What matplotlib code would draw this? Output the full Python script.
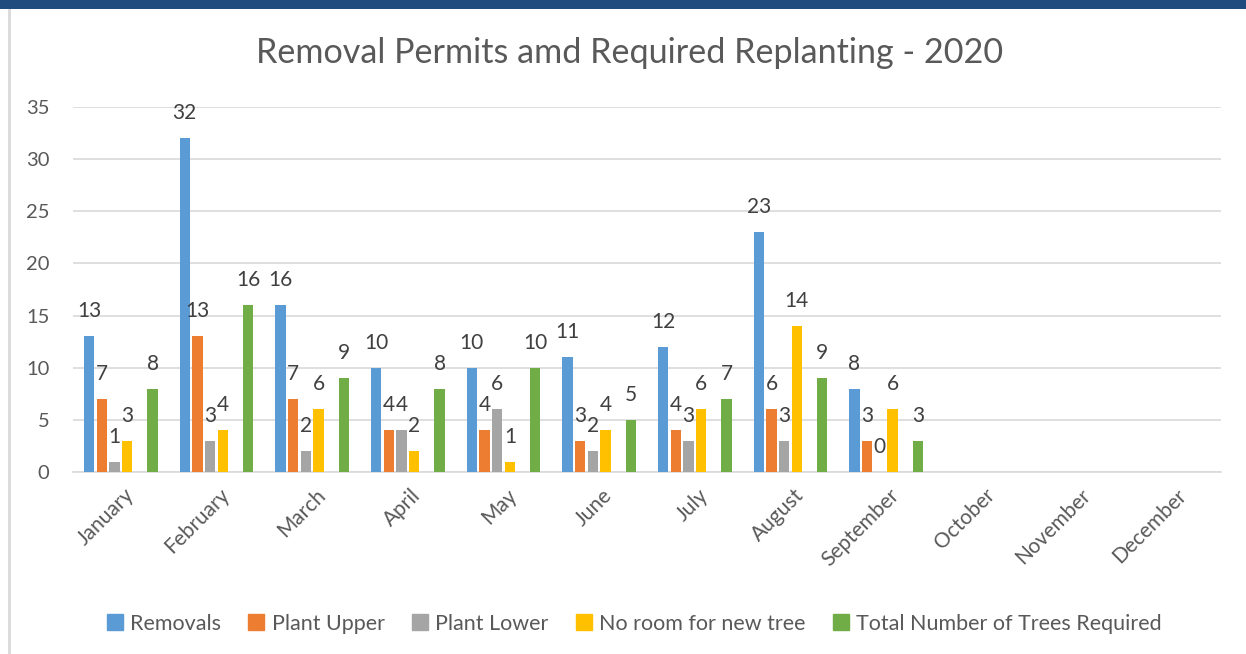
import numpy as np
import matplotlib
matplotlib.use("Agg")
import matplotlib.pyplot as plt
from matplotlib.patches import Rectangle
from matplotlib.lines import Line2D
from matplotlib.transforms import ScaledTranslation

# =========================
# DATA
# =========================
months = ["January", "February", "March", "April", "May", "June",
          "July", "August", "September", "October", "November", "December"]

removals = [13, 32, 16, 10, 10, 11, 12, 23, 8]
plant_upper = [7, 13, 7, 4, 4, 3, 4, 6, 3]
plant_lower = [1, 3, 2, 4, 6, 2, 3, 3, 0]
no_room = [3, 4, 6, 2, 1, 4, 6, 14, 6]
total_required = [8, 16, 9, 8, 10, 5, 7, 9, 3]

series_names = ["Removals", "Plant Upper", "Plant Lower",
                "No room for new tree", "Total Number of Trees Required"]
series_values = [removals, plant_upper, plant_lower, no_room, total_required]
series_colors = ["#5B9BD5", "#ED7D31", "#A5A5A5", "#FFC000", "#70AD47"]
# slot 4 is left empty in the original chart (hidden series)
series_slots = [0, 1, 2, 3, 5]

# =========================
# STYLE
# =========================
plt.rcParams["font.family"] = ["Lato", "DejaVu Sans"]
TEXT = "#595959"
LABEL = "#404040"
GRID = "#D9D9D9"

fig = plt.figure(figsize=(12.46, 6.54), dpi=100)
ax = fig.add_axes([73 / 1246, 1 - 472 / 654, (1221 - 73) / 1246, (472 - 107) / 654])

n_slots = 6
slot_w = 0.1327
bar_w = 0.108
x = np.arange(len(months))

for name, vals, color, slot in zip(series_names, series_values, series_colors, series_slots):
    xs = x[:len(vals)] + (slot - (n_slots - 1) / 2) * slot_w
    ax.bar(xs, vals, width=bar_w, color=color, label=name, zorder=3)
    for bx, v in zip(xs, vals):
        ax.annotate(str(v), (bx, v), xytext=(0, 18), textcoords="offset points",
                    ha="center", va="center", fontsize=15, color=LABEL, zorder=4)

ax.set_xlim(-0.5, len(months) - 0.5)
ax.set_ylim(0, 35)
ax.set_yticks(range(0, 36, 5))
ax.yaxis.grid(True, color=GRID, linewidth=1.2, zorder=0)
ax.set_axisbelow(True)
for side in ["top", "right", "left"]:
    ax.spines[side].set_visible(False)
ax.spines["bottom"].set_color(GRID)
ax.spines["bottom"].set_linewidth(1.2)
ax.tick_params(axis="both", length=0, colors=TEXT, labelsize=14.5)
ax.tick_params(axis="y", pad=17)

ax.set_xticks(x)
ax.set_xticklabels(months, rotation=45, ha="right", va="top",
                   rotation_mode="anchor", color=TEXT, fontsize=15)
for lbl in ax.get_xticklabels():
    lbl.set_transform(lbl.get_transform() + ScaledTranslation(0.03, -0.08, fig.dpi_scale_trans))

fig.text(630 / 1246, 1 - 53 / 654, "Removal Permits amd Required Replanting - 2020",
         ha="center", va="center", fontsize=24.6, color=TEXT)

handles = [Line2D([], [], marker="s", linestyle="none", markersize=11,
                  markerfacecolor=c, markeredgecolor=c) for c in series_colors]
fig.legend(handles, series_names, loc="center", bbox_to_anchor=(634 / 1246, 1 - 624 / 654),
           ncol=5, frameon=False, fontsize=15.5, handletextpad=0.3, columnspacing=1.25,
           labelcolor=TEXT, handlelength=0.8)

# page decorations around the chart
fig.add_artist(Rectangle((0, 1 - 8.5 / 654), 1, 8.5 / 654, transform=fig.transFigure,
                         facecolor="#1F4B7F", edgecolor="none"))
fig.add_artist(Line2D([9 / 1246, 9 / 1246], [0, 1 - 10 / 654], transform=fig.transFigure,
                      color=GRID, linewidth=2))

fig.savefig("out.png", dpi=100)
